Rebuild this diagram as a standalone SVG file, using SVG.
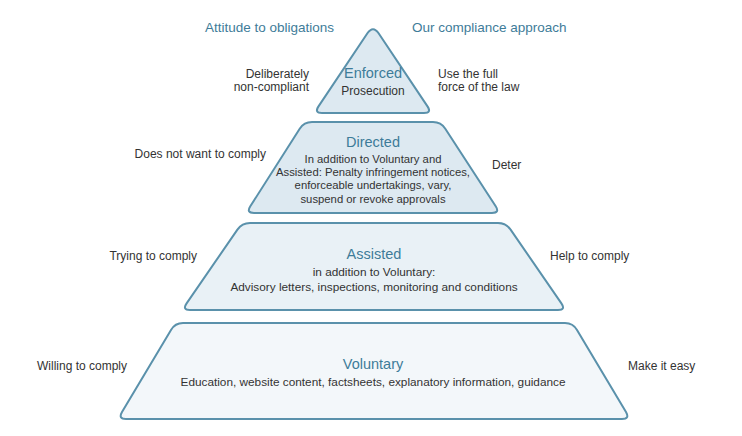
<svg xmlns="http://www.w3.org/2000/svg" width="742" height="436" viewBox="0 0 742 436">
<style>
.tier{stroke:#5a91ab;stroke-width:2;stroke-linejoin:round}
.t{font-family:"Liberation Sans",Arial,sans-serif;fill:#333;font-size:12px}
.h{font-family:"Liberation Sans",Arial,sans-serif;fill:#3e7c99;font-size:14.5px;text-anchor:middle}
.hd{font-family:"Liberation Sans",Arial,sans-serif;fill:#3e7c99;font-size:13.5px}
.b{font-family:"Liberation Sans",Arial,sans-serif;fill:#333;font-size:11.8px;text-anchor:middle}
.bd{font-size:11.3px}
</style>
<rect width="742" height="436" fill="#ffffff"/>
<g id="headers">
<text class="hd" x="205" y="32">Attitude to obligations</text>
<text class="hd" x="412" y="32">Our compliance approach</text>
</g>
<g id="voluntary">
<path class="tier" fill="#f3f7fa" d="M183,323 L565,323 Q573,323 577,330 L626,412 Q630,419 622,419 L126,419 Q118,419 122,412 L171,330 Q175,323 183,323Z"/>
<text class="h" x="373" y="369">Voluntary</text>
<text class="b" x="373" y="386">Education, website content, factsheets, explanatory information, guidance</text>
<text class="t" x="127" y="370" text-anchor="end">Willing to comply</text>
<text class="t" x="628" y="370">Make it easy</text>
</g>
<g id="assisted">
<path class="tier" fill="#e9f1f6" d="M250,223 L498,223 Q506,223 510.6,229.6 L561.4,303.4 Q566,310 558,310 L190,310 Q182,310 186.6,303.4 L237.4,229.6 Q242,223 250,223Z"/>
<text class="h" x="374" y="259">Assisted</text>
<text class="b" x="374" y="276">in addition to Voluntary:</text>
<text class="b" x="374" y="291">Advisory letters, inspections, monitoring and conditions</text>
<text class="t" x="197" y="260" text-anchor="end">Trying to comply</text>
<text class="t" x="550" y="260">Help to comply</text>
</g>
<g id="directed">
<path class="tier" fill="#dde9f1" d="M312,122 L433,122 Q441,122 445.3,128.7 L495.7,206.3 Q500,213 492,213 L254,213 Q246,213 250.3,206.3 L299.7,128.7 Q304,122 312,122Z"/>
<text class="h" x="373" y="147">Directed</text>
<text class="b bd" x="373" y="163">In addition to Voluntary and</text>
<text class="b bd" x="373" y="176">Assisted: Penalty infringement notices,</text>
<text class="b bd" x="373" y="189">enforceable undertakings, vary,</text>
<text class="b bd" x="373" y="203">suspend or revoke approvals</text>
<text class="t" x="266" y="158" text-anchor="end">Does not want to comply</text>
<text class="t" x="492" y="169">Deter</text>
</g>
<g id="enforced">
<path class="tier" fill="#dde9f1" d="M367.4,33.3 Q373,25 378.6,33.3 L427.5,106.4 Q432,113 424,113 L322,113 Q314,113 318.5,106.4 Z"/>
<text class="h" x="373" y="78">Enforced</text>
<text class="b" x="373" y="95" style="font-size:12px">Prosecution</text>
<text class="t" x="309" y="78" text-anchor="end">Deliberately</text>
<text class="t" x="309" y="91" text-anchor="end">non-compliant</text>
<text class="t" x="438" y="78">Use the full</text>
<text class="t" x="438" y="91">force of the law</text>
</g>
<g id="connectors"/>
</svg>
